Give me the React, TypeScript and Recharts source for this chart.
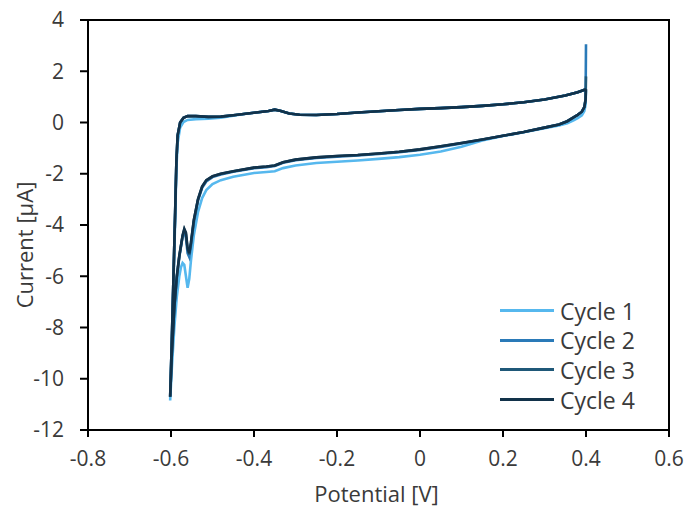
import React from "react";
import {
  LineChart,
  Line,
  XAxis,
  YAxis,
  ReferenceArea,
  Legend,
  Label,
} from "recharts";

// Potential grid [V] for the cathodic sweep (0.4 -> -0.6) and the return sweep.
const CATHODIC_V = [
  0.4, 0.399, 0.396, 0.39, 0.38, 0.37, 0.355, 0.335, 0.3, 0.25, 0.2, 0.15, 0.1,
  0.05, 0.0, -0.05, -0.1, -0.15, -0.2, -0.25, -0.3, -0.33, -0.35, -0.37, -0.4,
  -0.45, -0.48, -0.5, -0.515, -0.525, -0.535, -0.545, -0.552, -0.556, -0.56,
  -0.564, -0.568, -0.572, -0.576, -0.58, -0.586, -0.592, -0.598, -0.602,
];
const ANODIC_V = [
  -0.602, -0.598, -0.594, -0.59, -0.587, -0.584, -0.578, -0.57, -0.56, -0.54,
  -0.51, -0.48, -0.45, -0.42, -0.39, -0.365, -0.35, -0.335, -0.315, -0.29,
  -0.25, -0.2, -0.15, -0.1, -0.05, 0.0, 0.05, 0.1, 0.15, 0.2, 0.25, 0.3, 0.35,
  0.38, 0.4,
];

// Current [µA], one list per sweep per cycle.
const CYCLE1_CATHODIC = [
  1.25, 0.7, 0.45, 0.28, 0.17, 0.08, -0.03, -0.12, -0.22, -0.38, -0.53, -0.7,
  -0.95, -1.13, -1.26, -1.35, -1.42, -1.48, -1.53, -1.58, -1.68, -1.78, -1.9,
  -1.93, -1.97, -2.12, -2.25, -2.4, -2.64, -2.95, -3.5, -4.4, -5.4, -6.1, -6.45,
  -6.0, -5.55, -5.48, -5.65, -6.0, -6.8, -8.0, -9.6, -10.85,
];
const CYCLE2_CATHODIC = [
  3.05, 0.9, 0.6, 0.42, 0.3, 0.2, 0.05, -0.08, -0.2, -0.37, -0.52, -0.67, -0.82,
  -0.95, -1.07, -1.16, -1.23, -1.29, -1.33, -1.38, -1.47, -1.57, -1.7, -1.74,
  -1.78, -1.92, -2.03, -2.13, -2.3, -2.55, -3.05, -3.9, -4.8, -5.25, -5.1,
  -4.5, -4.25, -4.45, -4.85, -5.25, -6.05, -7.25, -9.05, -10.7,
];
const CYCLE3_CATHODIC = [
  1.8, 0.9, 0.6, 0.42, 0.3, 0.2, 0.05, -0.08, -0.2, -0.37, -0.52, -0.66, -0.8,
  -0.93, -1.05, -1.14, -1.21, -1.27, -1.31, -1.36, -1.45, -1.55, -1.68, -1.72,
  -1.76, -1.9, -2.0, -2.1, -2.26, -2.5, -3.0, -3.82, -4.72, -5.15, -4.95,
  -4.35, -4.18, -4.42, -4.82, -5.22, -6.02, -7.22, -9.02, -10.7,
];
const CYCLE4_CATHODIC = [
  1.3, 0.9, 0.6, 0.42, 0.3, 0.2, 0.05, -0.08, -0.2, -0.37, -0.52, -0.66, -0.8,
  -0.93, -1.05, -1.14, -1.21, -1.27, -1.31, -1.36, -1.45, -1.55, -1.68, -1.72,
  -1.76, -1.9, -2.0, -2.1, -2.25, -2.5, -3.0, -3.8, -4.7, -5.1, -4.9, -4.3,
  -4.15, -4.4, -4.8, -5.2, -6.0, -7.2, -9.0, -10.7,
];

const CYCLE1_ANODIC = [
  -10.85, -8.8, -6.3, -3.8, -1.8, -0.8, -0.2, 0.02, 0.1, 0.13, 0.15, 0.19, 0.26,
  0.34, 0.4, 0.45, 0.5, 0.45, 0.35, 0.3, 0.29, 0.33, 0.39, 0.44, 0.49, 0.53,
  0.56, 0.6, 0.65, 0.71, 0.79, 0.9, 1.05, 1.18, 1.3,
];
const CYCLE2_ANODIC = [
  -10.7, -8.5, -6.0, -3.5, -1.5, -0.5, 0.0, 0.18, 0.25, 0.25, 0.22, 0.23, 0.28,
  0.34, 0.4, 0.45, 0.5, 0.45, 0.35, 0.3, 0.29, 0.33, 0.39, 0.44, 0.49, 0.53,
  0.56, 0.6, 0.65, 0.71, 0.79, 0.9, 1.05, 1.18, 1.3,
];
const CYCLE3_ANODIC = [
  -10.7, -8.5, -6.0, -3.5, -1.5, -0.5, 0.0, 0.18, 0.25, 0.25, 0.22, 0.23, 0.28,
  0.34, 0.4, 0.45, 0.5, 0.45, 0.35, 0.3, 0.29, 0.33, 0.39, 0.44, 0.49, 0.53,
  0.56, 0.6, 0.65, 0.71, 0.79, 0.9, 1.05, 1.18, 1.3,
];
const CYCLE4_ANODIC = [
  -10.7, -8.5, -6.0, -3.5, -1.5, -0.5, 0.0, 0.18, 0.25, 0.25, 0.22, 0.23, 0.28,
  0.34, 0.4, 0.45, 0.5, 0.45, 0.35, 0.3, 0.29, 0.33, 0.39, 0.44, 0.49, 0.53,
  0.56, 0.6, 0.65, 0.71, 0.79, 0.9, 1.05, 1.18, 1.3,
];

const CYCLE_NAMES = ["Cycle 1", "Cycle 2", "Cycle 3", "Cycle 4"];
const CYCLE_COLORS = ["#56b8ee", "#2a7ab8", "#1f5878", "#12324a"];

const X_TICKS = [-0.8, -0.6, -0.4, -0.2, 0, 0.2, 0.4, 0.6];
const Y_TICKS = [-12, -10, -8, -6, -4, -2, 0, 2, 4];

const FONT = "'Open Sans', Lato, sans-serif";
const TEXT_COLOR = "#3a3a3a";
const TICK_SIZE = 21;
const TITLE_SIZE = 22;
const LEGEND_SIZE = 23;

function loop(cathodic: number[], anodic: number[]) {
  return [
    ...CATHODIC_V.map((v, k) => ({ v, i: cathodic[k] })),
    ...ANODIC_V.map((v, k) => ({ v, i: anodic[k] })),
  ];
}

const CYCLES = [
  loop(CYCLE1_CATHODIC, CYCLE1_ANODIC),
  loop(CYCLE2_CATHODIC, CYCLE2_ANODIC),
  loop(CYCLE3_CATHODIC, CYCLE3_ANODIC),
  loop(CYCLE4_CATHODIC, CYCLE4_ANODIC),
];

const fmtX = (v: number) => (v === 0 ? "0" : v.toFixed(1));

function CycleLegend({ payload }: { payload?: any[] }) {
  return (
    <div style={{ fontFamily: FONT, fontSize: LEGEND_SIZE, color: TEXT_COLOR }}>
      {(payload ?? []).map((p, k) => (
        <div
          key={k}
          style={{ display: "flex", alignItems: "center", height: 29.6 }}
        >
          <span
            style={{
              display: "inline-block",
              width: 54,
              height: 3,
              background: p.color,
              marginRight: 6,
            }}
          />
          {p.value}
        </div>
      ))}
    </div>
  );
}

export default function App() {
  return (
    <div style={{ position: "absolute", left: 0, top: 0, background: "#fff" }}>
      <LineChart
        width={691}
        height={508}
        margin={{ top: 20, right: 22, bottom: 28, left: 28 }}
      >
        <XAxis
          type="number"
          dataKey="v"
          domain={[-0.8, 0.6]}
          ticks={X_TICKS}
          tickFormatter={fmtX}
          allowDataOverflow
          height={50}
          axisLine={false}
          tickLine={{ stroke: "#000", strokeWidth: 2 }}
          tickSize={7}
          tickMargin={14}
          tick={{ fill: TEXT_COLOR, fontSize: TICK_SIZE, fontFamily: FONT }}
        >
          <Label
            content={({ viewBox }: any) => (
              <text
                x={viewBox.x + viewBox.width / 2 - 2}
                y={viewBox.y + 63}
                textAnchor="middle"
                dominantBaseline="central"
                fill={TEXT_COLOR}
                fontSize={TITLE_SIZE}
                fontFamily={FONT}
              >
                Potential [V]
              </text>
            )}
          />
        </XAxis>
        <YAxis
          type="number"
          domain={[-12, 4]}
          ticks={Y_TICKS}
          allowDataOverflow
          width={60}
          axisLine={false}
          tickLine={{ stroke: "#000", strokeWidth: 2 }}
          tickSize={8}
          tickMargin={16}
          tick={{ fill: TEXT_COLOR, fontSize: TICK_SIZE, fontFamily: FONT }}
        >
          <Label
            content={({ viewBox }: any) => {
              const cx = viewBox.x - 4;
              const cy = viewBox.y + viewBox.height / 2 + 20;
              return (
                <text
                  x={cx}
                  y={cy}
                  transform={`rotate(-90 ${cx} ${cy})`}
                  textAnchor="middle"
                  dominantBaseline="central"
                  fill={TEXT_COLOR}
                  fontSize={TITLE_SIZE}
                  fontFamily={FONT}
                >
                  Current [µA]
                </text>
              );
            }}
          />
        </YAxis>
        <ReferenceArea
          x1={-0.8}
          x2={0.6}
          y1={-12}
          y2={4}
          fill="none"
          stroke="#000"
          strokeWidth={2}
          ifOverflow="visible"
        />
        {CYCLES.map((data, k) => (
          <Line
            key={k}
            data={data}
            dataKey="i"
            name={CYCLE_NAMES[k]}
            type="linear"
            stroke={CYCLE_COLORS[k]}
            strokeWidth={2.6}
            dot={false}
            activeDot={false}
            isAnimationActive={false}
          />
        ))}
        <Legend
          layout="horizontal"
          verticalAlign="middle"
          align="center"
          wrapperStyle={{ left: 500, top: 296, width: 170, height: 120 }}
          content={(props: any) => <CycleLegend payload={props.payload} />}
        />
      </LineChart>
    </div>
  );
}
